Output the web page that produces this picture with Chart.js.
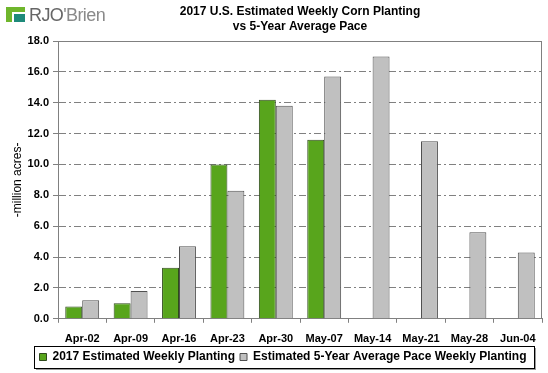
<!DOCTYPE html>
<html>
<head>
<meta charset="UTF-8">
<title>2017 U.S. Estimated Weekly Corn Planting</title>
<script src="https://cdn.jsdelivr.net/npm/chart.js"></script>
<style>
    body { margin: 0; background: #fff; }
    #wrap { position: relative; width: 548px; height: 373px; }
    #logo { position: absolute; left: 6px; top: 5px; font-family: Arial, "Liberation Sans", sans-serif; font-size: 18px; color: #8a8a8a; letter-spacing: -0.6px; }
    #logo .icon { display: inline-block; position: relative; width: 19px; height: 15px; vertical-align: -1px; margin-right: 4px; }
    #logo .a { position: absolute; left: 0; top: 0; width: 19px; height: 5px; background: #6fb62c; }
    #logo .b { position: absolute; left: 0; top: 0; width: 6px; height: 15px; background: #6fb62c; }
    #logo .c { position: absolute; left: 8px; top: 7px; width: 11px; height: 8px; background: #1e8a7a; }
    #logo b { color: #666; font-weight: normal; }
</style>
</head>
<body>
<div id="wrap">
    <canvas id="cornChart" width="548" height="373"></canvas>
    <div id="logo"><span class="icon"><span class="a"></span><span class="b"></span><span class="c"></span></span><b>RJO</b>'Brien</div>
</div>
<script>
    const weeks = ['Apr-02', 'Apr-09', 'Apr-16', 'Apr-23', 'Apr-30', 'May-07', 'May-14', 'May-21', 'May-28', 'Jun-04'];
    const planting2017 = [0.8, 1.0, 3.3, 10.0, 14.2, 11.6, null, null, null, null];
    const avgPace = [1.2, 1.8, 4.7, 8.3, 13.8, 15.7, 17.0, 11.5, 5.6, 4.3];
    const yTicks = [0, 2, 4, 6, 8, 10, 12, 14, 16, 18];

    const font = 'Arial, "Liberation Sans", sans-serif';

    // frame on top/right of plot + box around the legend
    const framePlugin = {
        id: 'frame',
        afterDraw(chart) {
            const c = chart.ctx;
            const a = chart.chartArea;
            c.save();
            c.strokeStyle = '#808080';
            c.lineWidth = 1;
            c.beginPath();
            c.moveTo(a.left, a.top + 0.5);
            c.lineTo(a.right - 0.5, a.top + 0.5);
            c.lineTo(a.right - 0.5, a.bottom);
            c.stroke();

            const hb = chart.legend.legendHitBoxes;
            if (hb && hb.length) {
                const x1 = Math.round(hb[0].left) - 6;
                const x2 = Math.round(hb[hb.length - 1].left + hb[hb.length - 1].width) + 8;
                const y1 = Math.round(hb[0].top) - 5;
                const y2 = Math.round(hb[0].top + hb[0].height) + 5;
                c.fillStyle = '#9a9a9a';
                c.fillRect(x1 + 2, y1 + 2, x2 - x1, y2 - y1);
                c.fillStyle = '#fff';
                c.fillRect(x1, y1, x2 - x1, y2 - y1);
                c.strokeStyle = '#000';
                c.strokeRect(x1 + 0.5, y1 + 0.5, x2 - x1, y2 - y1);
            }
            c.restore();
        }
    };

    // redraw legend items on top of the box
    const legendOnTop = {
        id: 'legendOnTop',
        afterDraw(chart) { chart.legend.draw(); }
    };

    // rotated y axis caption
    const yTitlePlugin = {
        id: 'yTitle',
        afterDraw(chart) {
            const c = chart.ctx;
            const a = chart.chartArea;
            c.save();
            c.translate(18, (a.top + a.bottom) / 2);
            c.rotate(-Math.PI / 2);
            c.font = '12px ' + font;
            c.fillStyle = '#000';
            c.textAlign = 'center';
            c.textBaseline = 'middle';
            c.fillText('-million acres-', 0, 0);
            c.restore();
        }
    };

    new Chart(document.getElementById('cornChart'), {
        type: 'bar',
        data: {
            labels: weeks,
            datasets: [
                {
                    label: '2017 Estimated Weekly Planting',
                    data: planting2017,
                    backgroundColor: '#58a51c',
                    borderColor: '#2f4a1c',
                    borderWidth: 1,
                    borderSkipped: 'bottom',
                    barPercentage: 1,
                    categoryPercentage: 0.7
                },
                {
                    label: 'Estimated 5-Year Average Pace Weekly Planting',
                    data: avgPace,
                    backgroundColor: '#c0c0c0',
                    borderColor: '#505050',
                    borderWidth: 1,
                    borderSkipped: 'bottom',
                    barPercentage: 1,
                    categoryPercentage: 0.7
                }
            ]
        },
        options: {
            responsive: false,
            animation: false,
            layout: { padding: { left: 24, right: 6, top: 0, bottom: 0 } },
            plugins: {
                title: {
                    display: true,
                    fullSize: false,
                    text: ['2017 U.S. Estimated Weekly Corn Planting', 'vs 5-Year Average Pace'],
                    color: '#000',
                    font: { family: font, size: 12, weight: 'bold', lineHeight: 1.25 },
                    padding: { top: 4, bottom: 7 }
                },
                legend: {
                    position: 'bottom',
                    labels: {
                        color: '#000',
                        font: { family: font, size: 12, weight: 'bold' },
                        boxWidth: 7,
                        boxHeight: 7,
                        padding: 5
                    }
                },
                tooltip: { enabled: false }
            },
            scales: {
                x: {
                    afterFit(scale) { scale.height -= 10; },
                    grid: { drawOnChartArea: false, drawTicks: true, tickLength: 4, color: '#808080' },
                    border: { color: '#808080' },
                    ticks: { color: '#000', font: { family: font, size: 11, weight: 'bold' }, maxRotation: 0, padding: 10 }
                },
                y: {
                    min: 0,
                    max: 18,
                    afterBuildTicks(scale) { scale.ticks = yTicks.map(v => ({ value: v })); },
                    afterFit(scale) { scale.width = 34; },
                    grid: {
                        color: '#808080',
                        tickLength: 5,
                        tickBorderDash: []
                    },
                    border: {
                        color: '#808080',
                        dash: ctx => (ctx.tick && (ctx.tick.value === 0 || ctx.tick.value === 18)) ? [] : [7, 3, 2, 3]
                    },
                    ticks: {
                        color: '#000',
                        font: { family: font, size: 11, weight: 'bold' },
                        padding: 4,
                        callback: v => v.toFixed(1)
                    }
                }
            }
        },
        plugins: [framePlugin, legendOnTop, yTitlePlugin]
    });
</script>
</body>
</html>
